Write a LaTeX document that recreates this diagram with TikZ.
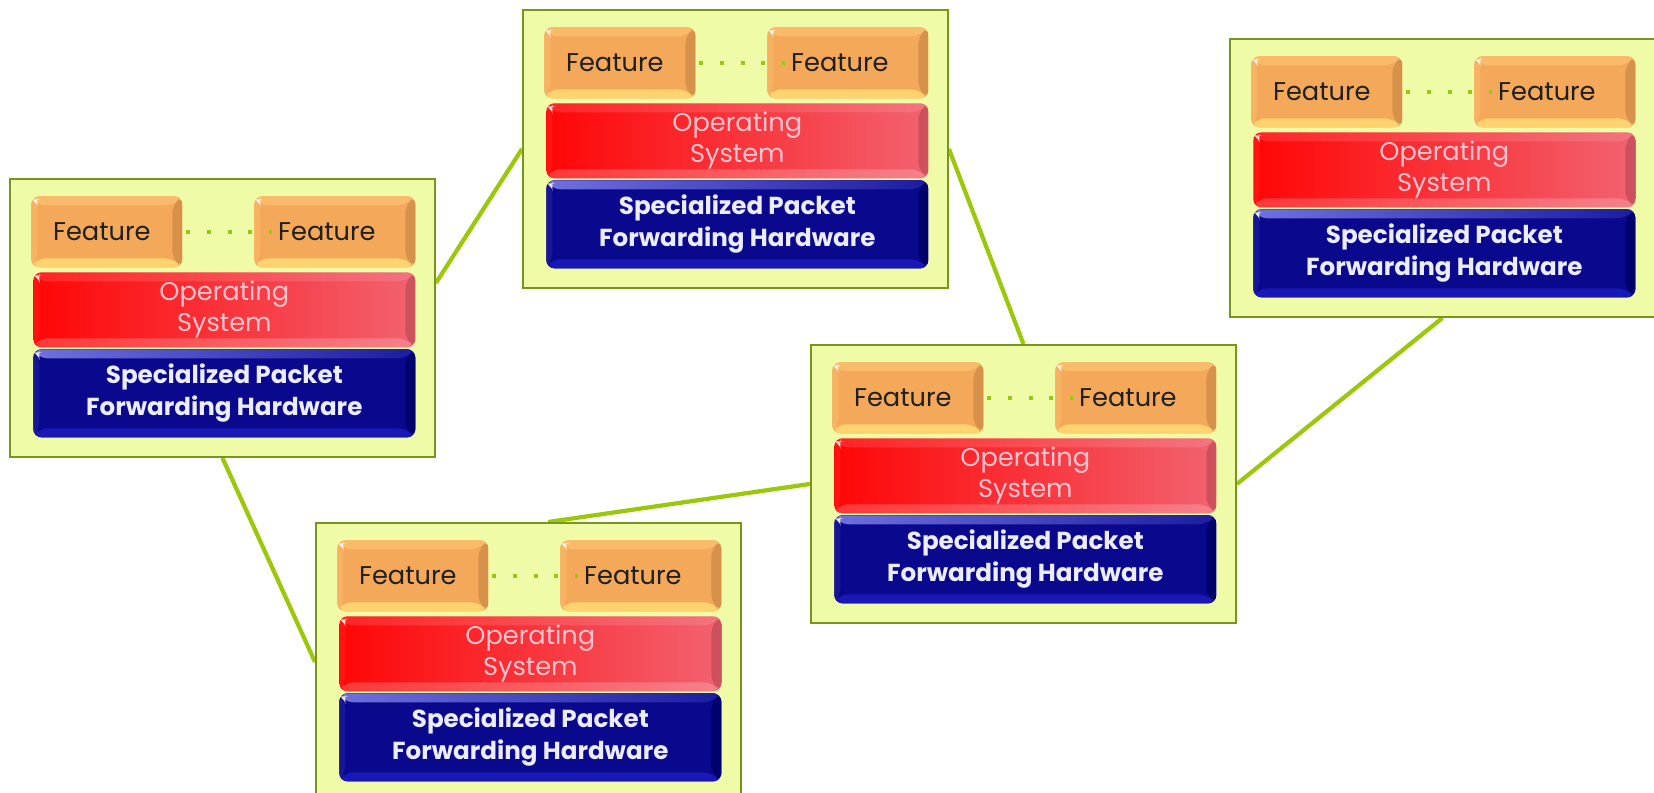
\documentclass[tikz,border=0pt]{standalone}
\usepackage{fontspec}
\setmainfont{Poppins}
\usetikzlibrary{calc,backgrounds}
\definecolor{boxfill}{RGB}{240,251,168}
\definecolor{boxline}{RGB}{120,150,30}
\definecolor{conngreen}{RGB}{155,200,10}
\definecolor{dotgreen}{RGB}{150,200,20}
\definecolor{featmain}{RGB}{244,168,90}
\definecolor{featT}{RGB}{249,186,106}
\definecolor{featB}{RGB}{255,210,112}
\definecolor{featL}{RGB}{247,178,98}
\definecolor{featR}{RGB}{214,146,74}
\definecolor{osL}{RGB}{255,6,6}
\definecolor{osR}{RGB}{242,98,112}
\definecolor{ostext}{RGB}{255,196,206}
\definecolor{hwmain}{RGB}{10,8,140}
\definecolor{hwTl}{RGB}{112,112,222}
\definecolor{hwTr}{RGB}{28,28,160}
\definecolor{hwB}{RGB}{24,24,182}
\definecolor{hwL}{RGB}{22,22,150}
\definecolor{hwR}{RGB}{0,0,108}
\definecolor{hwtext}{RGB}{236,236,255}
\newcommand{\mybevel}[4]{%
  \coordinate (bNW) at (path picture bounding box.north west);
  \coordinate (bNE) at (path picture bounding box.north east);
  \coordinate (bSW) at (path picture bounding box.south west);
  \coordinate (bSE) at (path picture bounding box.south east);
  \fill[#1] (bNW) -- (bNE) -- ($(bNE)+(-10,9)$) -- ($(bNW)+(6,9)$) -- cycle;
  \fill[#2] (bSW) -- (bSE) -- ($(bSE)+(-10,-9)$) -- ($(bSW)+(6,-9)$) -- cycle;
  \fill[#3] (bNW) -- (bSW) -- ($(bSW)+(6,-9)$) -- ($(bNW)+(6,9)$) -- cycle;
  \fill[#4] (bNE) -- (bSE) -- ($(bSE)+(-10,-9)$) -- ($(bNE)+(-10,9)$) -- cycle;
  \fill[white,opacity=.85] ($(bNW)+(1,3)$) -- ($(bNW)+(6,3)$) -- ($(bNW)+(6,9)$) -- cycle;
}
\tikzset{
  rbox/.style={draw=boxline, line width=1.13pt, fill=boxfill, minimum width=8.5cm,
    minimum height=5.56cm, inner sep=0pt, anchor=north west},
  feat/.style={fill=featmain, rounded corners=4.5pt, minimum height=1.42cm, inner sep=0pt,
    anchor=north west, font=\fontsize{14.6}{17}\selectfont, text=black!88,
    path picture={\mybevel{featT}{featB}{featL}{featR}}},
  osbox/.style={left color=osL, right color=osR, rounded corners=4.5pt, minimum width=7.64cm,
    minimum height=1.5cm, inner sep=0pt, anchor=north west, align=center,
    font=\fontsize{14.6}{17.5}\selectfont, text=ostext,
    path picture={\mybevel{white,opacity=.12}{white,opacity=.2}{white,opacity=.05}{black,opacity=.15}}},
  hwbox/.style={fill=hwmain, rounded corners=4.5pt, minimum width=7.64cm,
    minimum height=1.76cm, inner sep=0pt, anchor=north west, align=center,
    font=\fontsize{14}{18.1}\selectfont\bfseries, text=hwtext,
    path picture={\mybevel{left color=hwTl,right color=hwTr}{hwB}{hwL}{hwR}}},
  dotline/.style={draw=dotgreen, line width=2.27pt, dash pattern=on 2.27pt off 9.64pt},
  conn/.style={draw=conngreen, line width=2.4pt}
}
\newcommand{\router}[3]{%
  \node[rbox] (#1) at (#2,#3) {};
  \node[feat, minimum width=3.02cm] (#1-f1) at ($(#1.north west)+(22,18)$) {\kern-5.7pt Feature};
  \node[feat, minimum width=3.22cm] (#1-f2) at ($(#1.north west)+(245,18)$) {\kern-9pt Feature};
  \node[osbox] (#1-os) at ($(#1.north west)+(24,94)$) {\raisebox{-2pt}{Operating}\\\raisebox{-2pt}{System}};
  \node[hwbox] (#1-hw) at ($(#1.north west)+(24,171)$) {Specialized Packet\\Forwarding Hardware};
  \draw[dotline] ($(#1-f1.east)+(3,0)$) -- ($(#1-f2.west)+(18,0)$);
}
\begin{document}
\begin{tikzpicture}[x=0.02cm,y=-0.02cm]
\useasboundingbox (0,0) rectangle (1654,793);
\begin{scope}
\clip (0,0) rectangle (1654,793);
\router{A}{9}{178}
\router{B}{522}{9}
\router{C}{315}{522}
\router{D}{810}{344}
\router{E}{1229}{38}
\end{scope}
\begin{pgfonlayer}{background}
\draw[conn] ($(A.north east)!0.375!(A.south east)$) -- (B.west);
\draw[conn] (A.south) -- (C.west);
\draw[conn] ($(C.north west)!0.546!(C.north east)$) -- (D.west);
\draw[conn] (B.east) -- (D.north);
\draw[conn] (D.east) -- (E.south);
\end{pgfonlayer}
\end{tikzpicture}
\end{document}
